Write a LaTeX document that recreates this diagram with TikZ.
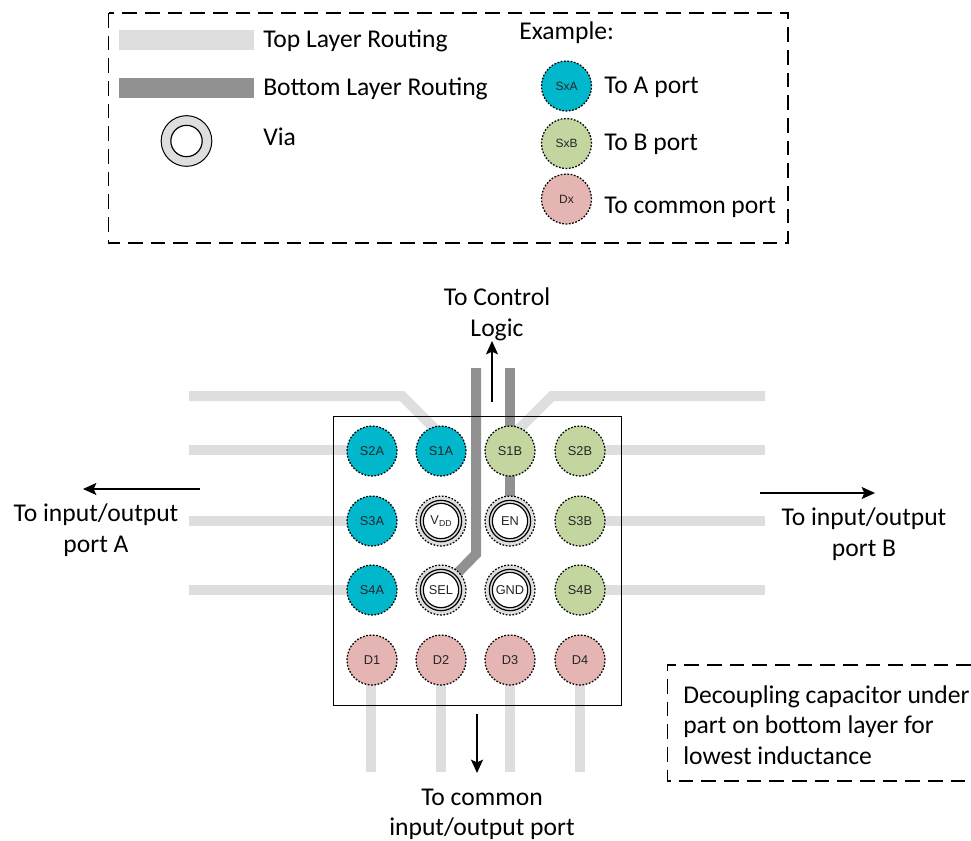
\documentclass[tikz,border=0pt]{standalone}
\usepackage{fontspec}
\setmainfont{Carlito}
\newfontfamily\arialf{Liberation Sans}
\usetikzlibrary{arrows.meta}
\tikzset{
 x=0.75pt,y=-0.75pt,
 toptrace/.style={line width=7.5pt,draw=topgray,line cap=butt,line join=miter},
 bottrace/.style={line width=7.5pt,draw=botgray,line cap=butt,line join=miter},
 padbase/.style={circle,minimum size=37.5pt,inner sep=0pt,draw=black,dash pattern=on 1.3pt off 1.2pt,line width=0.95pt,font=\arialf\fontsize{9.6}{11}\selectfont,text=black!85},
 apad/.style={padbase,fill=padA},
 bpad/.style={padbase,fill=padB},
 dpad/.style={padbase,fill=padD},
 viaout/.style={padbase,fill=topgray},
 viamid/.style={circle,minimum size=31pt,inner sep=0pt,draw=black,line width=0.9pt,fill=topgray},
 viaring/.style={circle,minimum size=26.5pt,inner sep=0pt,draw=black,line width=0.9pt,fill=white,font=\arialf\fontsize{9.6}{11}\selectfont,text=black!85},
 txt/.style={font=\fontsize{19.2}{23}\selectfont,text=black,inner sep=0pt},
 frame/.style={draw=black,line width=1.1pt,dash pattern=on 11pt off 6pt},
 flow/.style={draw=black,line width=0.9pt,-{Stealth[length=10pt,width=9pt,inset=2pt]}},
}
\definecolor{topgray}{HTML}{DEDEDE}
\definecolor{botgray}{HTML}{919191}
\definecolor{padA}{HTML}{00B7CC}
\definecolor{padB}{HTML}{C4D6A0}
\definecolor{padD}{HTML}{E5B5B3}
\begin{document}
\begin{tikzpicture}
\useasboundingbox (0,0) rectangle (971,840);
% legend
\draw[frame] (108.5,13) rectangle (788,243);
\fill[topgray] (119,30) rectangle (254,50);
\fill[botgray] (119,78) rectangle (254,98);
\node[txt,anchor=west] (tl) at (263,41) {Top Layer Routing};
\node[txt,anchor=west] (bl) at (263,89) {Bottom Layer Routing};
\node[txt,anchor=west] (vl) at (263,137) {Via};
\node[circle,minimum size=38pt,inner sep=0pt,draw=black,line width=0.75pt,fill=topgray] (lv) at (186.5,141) {};
\node[circle,minimum size=23.5pt,inner sep=0pt,draw=black,line width=0.9pt,fill=white] (lvi) at (186.5,141) {};
\node[txt,anchor=west] (ex) at (519,33) {Example:};
\node[apad] (lA) at (566.5,86) {\fontsize{9}{10}\selectfont SxA};
\node[bpad] (lB) at (566.5,143.5) {\fontsize{9}{10}\selectfont SxB};
\node[dpad] (lD) at (566.5,199) {\fontsize{9}{10}\selectfont Dx};
\node[txt,anchor=west] (tA) at (604,87.5) {To A port};
\node[txt,anchor=west] (tB) at (604,144.5) {To B port};
\node[txt,anchor=west] (tD) at (604,207) {To common port};
% routing: free ends
\coordinate (L1) at (189,396); \coordinate (L1b) at (402,396); \coordinate (L1c) at (437,431);
\coordinate (L2) at (189,450); \coordinate (L3) at (189,521); \coordinate (L4) at (189,590);
\coordinate (R1) at (765,396); \coordinate (R1b) at (552,396); \coordinate (R1c) at (517,431);
\coordinate (R2) at (765,450); \coordinate (R3) at (765,521); \coordinate (R4) at (765,590);
\coordinate (B1) at (371,772); \coordinate (B2) at (441,772); \coordinate (B3) at (510,772); \coordinate (B4) at (580,772);
\coordinate (T1) at (476,368); \coordinate (T1b) at (476,554); \coordinate (T2) at (510,368);
\coordinate (SELc) at (441,590); \coordinate (ENc) at (510,521);
\draw[toptrace] (L1) -- (L1b) -- (L1c);
\draw[toptrace] (L2) -- (372,450);
\draw[toptrace] (L3) -- (372,521);
\draw[toptrace] (L4) -- (372,590);
\draw[toptrace] (R1) -- (R1b) -- (R1c);
\draw[toptrace] (R2) -- (580,450);
\draw[toptrace] (R3) -- (580,521);
\draw[toptrace] (R4) -- (580,590);
\draw[toptrace] (371,660) -- (B1);
\draw[toptrace] (441,660) -- (B2);
\draw[toptrace] (510,660) -- (B3);
\draw[toptrace] (580,660) -- (B4);
\draw[bottrace] (T1) -- (T1b) -- (SELc);
\draw[bottrace] (T2) -- (ENc);
% chip
\node[draw=black,line width=0.9pt,minimum width=216.5pt,minimum height=216.5pt,inner sep=0pt,anchor=north west] (chip) at (332.5,416) {};
% pads
\node[apad] (S2A) at (372,451) {S2A};
\node[apad] (S1A) at (441,451) {S1A};
\node[apad] (S3A) at (372,521) {S3A};
\node[apad] (S4A) at (372,590) {S4A};
\node[bpad] (S1B) at (510,451) {S1B};
\node[bpad] (S2B) at (580,451) {S2B};
\node[bpad] (S3B) at (580,521) {S3B};
\node[bpad] (S4B) at (580,590) {S4B};
\node[dpad] (D1) at (372,660) {D1};
\node[dpad] (D2) at (441,660) {D2};
\node[dpad] (D3) at (510,660) {D3};
\node[dpad] (D4) at (580,660) {D4};
\foreach \n/\x/\y/\t in {VDD/441/521/{V\raisebox{-0.2ex}{\fontsize{6.5}{7}\selectfont DD}},EN/510/521/EN,SEL/441/590/SEL,GND/510/590/GND}{
 \node[viaout] (\n o) at (\x,\y) {};
 \node[viamid] (\n m) at (\x,\y) {};
 \node[viaring] (\n) at (\x,\y) {\t};
}
% arrows
\coordinate (aL0) at (200,489); \coordinate (aL1) at (83,489);
\coordinate (aR0) at (760,493); \coordinate (aR1) at (875,493);
\coordinate (aT0) at (492,402); \coordinate (aT1) at (492,341);
\coordinate (aB0) at (477,714); \coordinate (aB1) at (477,773);
\draw[flow] (aL0) -- (aL1);
\draw[flow] (aR0) -- (aR1);
\draw[flow] (aT0) -- (aT1);
\draw[flow] (aB0) -- (aB1);
\node[txt,align=center,font=\fontsize{19.2}{23.5}\selectfont] (lblT) at (497,314) {To Control\\Logic};
\node[txt,align=center,font=\fontsize{19.2}{23.5}\selectfont] (lblL) at (96,530) {To input/output\\port A};
\node[txt,align=center,font=\fontsize{19.2}{23.5}\selectfont] (lblR) at (864,534) {To input/output\\port B};
\node[txt,anchor=north,font=\fontsize{19.2}{23.5}\selectfont] (lblB1) at (482,789) {To common};
\node[txt,anchor=base,font=\fontsize{19.2}{23.5}\selectfont] (lblB2) at (482,835.5) {input/output port};
% note
\draw[frame] (971,665) -- (667.5,665) -- (667.5,781) -- (971,781);
\node[txt,align=left,anchor=west,font=\fontsize{19.2}{23}\selectfont] (note) at (683,725) {Decoupling capacitor under\\part on bottom layer for\\lowest inductance};
\end{tikzpicture}
\end{document}
